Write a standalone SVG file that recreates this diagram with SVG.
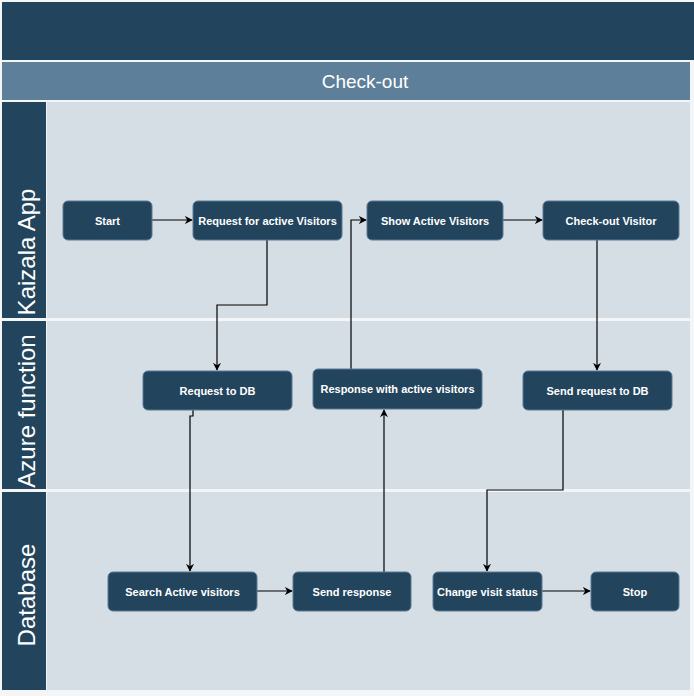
<svg xmlns="http://www.w3.org/2000/svg" width="694" height="696" viewBox="0 0 694 696">
<defs>
<style>
.node rect{fill:#23445d;stroke:#5b7a95;stroke-width:1}
.node text{fill:#fff;font-family:"Liberation Sans",Arial,sans-serif;font-size:11px;font-weight:bold;text-anchor:middle;dominant-baseline:central}
.lane{fill:#d5dde5}
.lanehead{fill:#23445d}
.lanetxt{fill:#fff;font-family:"Liberation Sans",Arial,sans-serif;font-size:24px;text-anchor:middle;dominant-baseline:central}
#connectors path{fill:none;stroke:#000;stroke-width:1.2;marker-end:url(#arr)}
</style>
<marker id="arr" viewBox="0 0 10 10" refX="9" refY="5" markerWidth="8" markerHeight="8" markerUnits="userSpaceOnUse" orient="auto">
<path d="M0,0 L10,5 L0,10 L3,5 z" fill="#000"/>
</marker>
</defs>
<rect x="0" y="0" width="694" height="696" fill="#f3f5f7"/>
<g id="header">
<rect x="2" y="2" width="692" height="58" fill="#23445d"/>
<rect x="2" y="62" width="688" height="38" fill="#5d7f99"/>
<text x="365" y="81" fill="#fff" font-family="'Liberation Sans',Arial,sans-serif" font-size="19" text-anchor="middle" dominant-baseline="central">Check-out</text>
</g>
<g id="lane-kaizala">
<rect class="lane" x="47" y="102" width="643" height="216"/>
<rect class="lanehead" x="2" y="102" width="44" height="216"/>
<text class="lanetxt" transform="translate(26,252) rotate(-90)">Kaizala App</text>
</g>
<g id="lane-azure">
<rect class="lane" x="47" y="321" width="643" height="168"/>
<rect class="lanehead" x="2" y="321" width="44" height="168"/>
<text class="lanetxt" transform="translate(26,411) rotate(-90)">Azure function</text>
</g>
<g id="lane-database">
<rect class="lane" x="47" y="492" width="643" height="198"/>
<rect class="lanehead" x="2" y="492" width="44" height="198"/>
<text class="lanetxt" transform="translate(26,595) rotate(-90)">Database</text>
</g>
<g id="connectors">
<path d="M152,220 L192,220"/>
<path d="M267,240 L267,305 L217,305 L217,370"/>
<path d="M351,369 L351,220 L366,220"/>
<path d="M503,220 L542,220"/>
<path d="M597,240 L597,370"/>
<path d="M193,410 L193,416 L190,416 L190,571"/>
<path d="M384,572 L384,410"/>
<path d="M563,410 L563,490 L487,490 L487,571"/>
<path d="M257,591 L292,591"/>
<path d="M542,591 L590,591"/>
</g>
<g id="n-start" class="node"><rect x="63" y="201" width="89" height="39" rx="5"/><text x="107.5" y="220.5">Start</text></g>
<g id="n-request-visitors" class="node"><rect x="193" y="201" width="149" height="39" rx="5"/><text x="267.5" y="220.5">Request for active Visitors</text></g>
<g id="n-show" class="node"><rect x="367" y="201" width="136" height="39" rx="5"/><text x="435" y="220.5">Show Active Visitors</text></g>
<g id="n-checkout" class="node"><rect x="543" y="201" width="136" height="39" rx="5"/><text x="611" y="220.5">Check-out Visitor</text></g>
<g id="n-request-db" class="node"><rect x="143" y="371" width="149" height="39" rx="5"/><text x="217.5" y="390.5">Request to DB</text></g>
<g id="n-response" class="node"><rect x="313" y="369" width="169" height="40" rx="5"/><text x="397.5" y="389">Response with active visitors</text></g>
<g id="n-send-request" class="node"><rect x="523" y="371" width="149" height="39" rx="5"/><text x="597.5" y="390.5">Send request to DB</text></g>
<g id="n-search" class="node"><rect x="108" y="572" width="149" height="39" rx="5"/><text x="182.5" y="591.5">Search Active visitors</text></g>
<g id="n-send-response" class="node"><rect x="293" y="572" width="118" height="39" rx="5"/><text x="352" y="591.5">Send response</text></g>
<g id="n-change" class="node"><rect x="433" y="572" width="109" height="39" rx="5"/><text x="487.5" y="591.5">Change visit status</text></g>
<g id="n-stop" class="node"><rect x="591" y="572" width="88" height="39" rx="5"/><text x="635" y="591.5">Stop</text></g>
</svg>
